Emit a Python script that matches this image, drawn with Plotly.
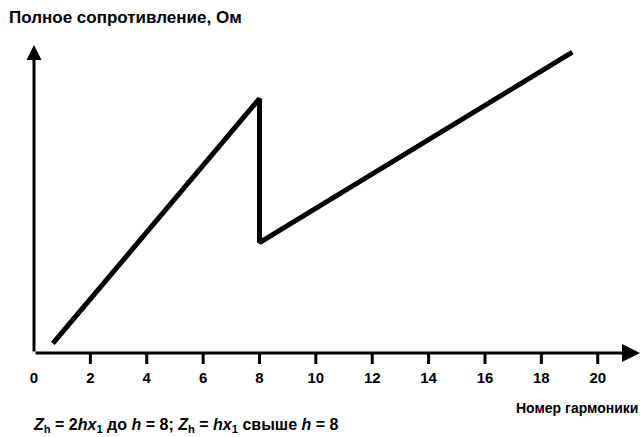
import plotly.graph_objects as go

# Data
harmonic = [0.67, 8.0, 8.0, 19.1]
impedance = [0.6, 15.9, 6.9, 18.8]
tick_vals = [0, 2, 4, 6, 8, 10, 12, 14, 16, 18, 20]
tick_text = ["0", "2", "4", "6", "8", "10", "12", "14", "16", "18", "20"]

y_title = "Полное сопротивление, Ом"
x_title = "Номер гармоники"
formula = ("<i>Z</i><sub>h</sub> = 2<i>hx</i><sub>1</sub> до <i>h</i> = 8; "
           "<i>Z</i><sub>h</sub> = <i>hx</i><sub>1</sub> свыше <i>h</i> = 8")

FONT = "Liberation Sans, Arial, sans-serif"
XMAX = 21.5
YMAX = 19.25
W, H = 644, 437
M = dict(l=34, r=4, t=45, b=84)
TICK_PX = 11
plot_h = H - M["t"] - M["b"]

fig = go.Figure()
fig.add_trace(go.Scatter(
    x=harmonic, y=impedance, mode="lines",
    line=dict(color="black", width=5), hoverinfo="skip", showlegend=False,
))

# tick marks below the x axis (the one at 0 sits on the y axis)
for tv in tick_vals[1:]:
    fig.add_shape(type="line", xref="x", yref="paper", x0=tv, x1=tv,
                  y0=0, y1=-TICK_PX / plot_h, layer="above",
                  line=dict(color="black", width=3))

# axes with arrows
fig.add_annotation(x=XMAX, y=0, ax=0, ay=0, xref="x", yref="y", axref="x", ayref="y",
                   showarrow=True, arrowhead=2, arrowsize=1.2, arrowwidth=3,
                   arrowcolor="black", text="")
fig.add_annotation(x=0, y=YMAX, ax=0, ay=0, xref="x", yref="y", axref="x", ayref="y",
                   showarrow=True, arrowhead=2, arrowsize=1.0, arrowwidth=3,
                   arrowcolor="black", text="")

fig.add_annotation(text=y_title, xref="paper", yref="paper",
                   x=-0.045, y=1.088, xanchor="left", yanchor="middle", showarrow=False,
                   font=dict(family=FONT, size=17, color="black", weight="bold"))
fig.add_annotation(text=x_title, xref="paper", yref="paper",
                   x=1.0, y=-0.18, xanchor="right", yanchor="middle", showarrow=False,
                   font=dict(family=FONT, size=14, color="black", weight="bold"))
fig.add_annotation(text=formula, xref="paper", yref="paper",
                   x=-0.005, y=-0.235, xanchor="left", yanchor="middle", showarrow=False,
                   font=dict(family=FONT, size=16, color="black", weight="bold"))

fig.update_layout(
    width=W, height=H,
    margin=M,
    paper_bgcolor="white", plot_bgcolor="white",
    xaxis=dict(range=[0, XMAX], tickvals=tick_vals, ticktext=tick_text,
               ticks="", ticklabelstandoff=14,
               showgrid=False, zeroline=False, showline=False,
               tickfont=dict(family=FONT, size=15, color="black", weight="bold"),
               fixedrange=True),
    yaxis=dict(range=[0, YMAX], showticklabels=False, ticks="",
               showgrid=False, zeroline=False, showline=False, fixedrange=True),
)

fig.write_html("out.html", config={"displayModeBar": False},
               post_script="document.body.style.margin='0px';")
